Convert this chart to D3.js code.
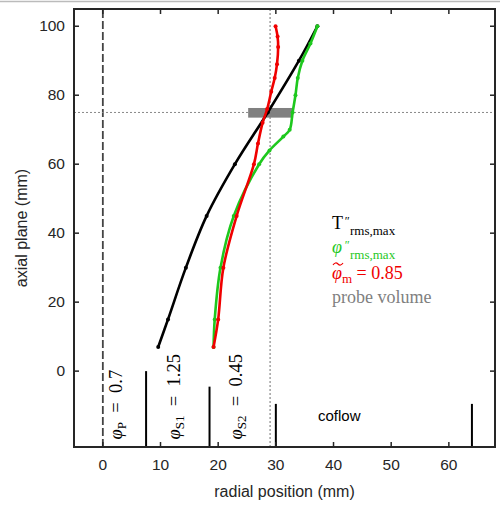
<!DOCTYPE html>
<html>
<head>
<meta charset="utf-8">
<script src="https://cdn.jsdelivr.net/npm/d3@7"></script>
<style>
  body { margin: 0; background: #fff; }
  svg { display: block; }
</style>
</head>
<body>
<svg id="chart" width="500" height="507"></svg>
<script>
// profiles (radial position vs axial plane, mm)
const blackY = [7, 15, 30, 45, 60, 75, 90, 100];
const blackX = [9.6, 11.3, 14.4, 18.0, 22.9, 28.6, 34.0, 37.2];

const greenY = [7, 15, 30, 45, 60, 64, 68, 70, 75, 80, 85, 90, 95, 100];
const greenX = [19.2, 19.4, 20.4, 22.7, 27.1, 28.9, 31.3, 32.4, 32.9, 33.4, 33.8, 34.6, 36.0, 37.2];

const redY = [7, 15, 30, 45, 60, 66, 72, 76, 81, 85, 89, 94, 97, 100];
const redX = [19.2, 20.0, 20.9, 23.2, 26.2, 26.9, 27.7, 28.5, 29.2, 29.8, 30.2, 30.4, 30.3, 29.95];

// burner walls: x position and top of the wall line
const wallX = [7.5, 18.5, 30, 64];
const wallTop = [0, -4.5, -9.5, -9.5];

const xTicks = [0, 10, 20, 30, 40, 50, 60];
const yTicks = [0, 20, 40, 60, 80, 100];

const probeX = [25.2, 33.0];
const probeY = [73.5, 76.3];
const probeZ = 75;     // horizontal dotted line
const probeR = 29;     // vertical dotted line

const svg = d3.select("#chart");
const margin = {top: 9, right: 5, bottom: 60, left: 74};
const W = 500, H = 507;

const x = d3.scaleLinear().domain([-5, 68]).range([margin.left, W - margin.right]);
const y = d3.scaleLinear().domain([-22, 105]).range([H - margin.bottom, margin.top]);

const sans = "'Liberation Sans', Arial, sans-serif";
const serif = "'Liberation Serif', 'Times New Roman', serif";

// faint frame line at top of image
svg.append("line").attr("x1", 0).attr("x2", W).attr("y1", 1.5).attr("y2", 1.5)
  .attr("stroke", "#bbb").attr("stroke-width", 1.5);

// reference lines
svg.append("line")
  .attr("x1", x(0)).attr("x2", x(0)).attr("y1", y(-22)).attr("y2", y(105))
  .attr("stroke", "#444").attr("stroke-width", 1.8).attr("stroke-dasharray", "8,3");
svg.append("line")
  .attr("x1", x(-5)).attr("x2", x(68)).attr("y1", y(probeZ)).attr("y2", y(probeZ))
  .attr("stroke", "#888").attr("stroke-width", 1).attr("stroke-dasharray", "2,2");
svg.append("line")
  .attr("x1", x(probeR)).attr("x2", x(probeR)).attr("y1", y(-22)).attr("y2", y(105))
  .attr("stroke", "#888").attr("stroke-width", 1.2).attr("stroke-dasharray", "2,2");

// burner wall stubs
svg.selectAll(".wall").data(wallX).enter().append("line")
  .attr("class", "wall")
  .attr("x1", d => x(d)).attr("x2", d => x(d))
  .attr("y1", y(-22)).attr("y2", (d, i) => y(wallTop[i]))
  .attr("stroke", "#000").attr("stroke-width", 2);

// probe volume
svg.append("rect")
  .attr("x", x(probeX[0])).attr("width", x(probeX[1]) - x(probeX[0]))
  .attr("y", y(probeY[1])).attr("height", y(probeY[0]) - y(probeY[1]))
  .attr("fill", "#808080");

const line = d3.line().x(d => x(d[0])).y(d => y(d[1])).curve(d3.curveCatmullRom);

function profile(xs, ys, color) {
  const pts = xs.map((v, i) => [v, ys[i]]);
  svg.append("path").datum(pts).attr("d", line)
    .attr("fill", "none").attr("stroke", color).attr("stroke-width", 2.6);
  svg.selectAll(null).data(pts).enter().append("circle")
    .attr("cx", d => x(d[0])).attr("cy", d => y(d[1])).attr("r", 2)
    .attr("fill", color);
}
profile(blackX, blackY, "#000");
profile(greenX, greenY, "#1ec81e");
profile(redX, redY, "#f00000");

// axes box with inward ticks
const axes = svg.append("g").attr("font-family", sans).attr("font-size", 15.5).attr("fill", "#262626");
axes.append("rect")
  .attr("x", x(-5)).attr("y", y(105)).attr("width", x(68) - x(-5)).attr("height", y(-22) - y(105))
  .attr("fill", "none").attr("stroke", "#262626").attr("stroke-width", 2);

const tl = 5;
xTicks.forEach(t => {
  axes.append("line").attr("x1", x(t)).attr("x2", x(t)).attr("y1", y(-22)).attr("y2", y(-22) - tl)
    .attr("stroke", "#262626").attr("stroke-width", 1.5);
  axes.append("line").attr("x1", x(t)).attr("x2", x(t)).attr("y1", y(105)).attr("y2", y(105) + tl)
    .attr("stroke", "#262626").attr("stroke-width", 1.5);
  axes.append("text").attr("x", x(t)).attr("y", y(-22) + 23).attr("text-anchor", "middle").text(t);
});
yTicks.forEach(t => {
  axes.append("line").attr("x1", x(-5)).attr("x2", x(-5) + tl).attr("y1", y(t)).attr("y2", y(t))
    .attr("stroke", "#262626").attr("stroke-width", 1.5);
  axes.append("line").attr("x1", x(68)).attr("x2", x(68) - tl).attr("y1", y(t)).attr("y2", y(t))
    .attr("stroke", "#262626").attr("stroke-width", 1.5);
  axes.append("text").attr("x", x(-5) - 9).attr("y", y(t) + 5).attr("text-anchor", "end").text(t);
});

axes.append("text").attr("x", (x(-5) + x(68)) / 2).attr("y", 497)
  .attr("text-anchor", "middle").attr("font-size", 16).text("radial position (mm)");
axes.append("text")
  .attr("transform", `translate(27,${(y(-22) + y(105)) / 2}) rotate(-90)`)
  .attr("text-anchor", "middle").attr("font-size", 16).text("axial plane (mm)");

svg.append("text").attr("x", 318).attr("y", 421).attr("font-family", sans).attr("font-size", 15)
  .attr("fill", "#000").text("coflow");

// rotated equivalence ratio labels
const eqLabels = [
  {sub: "P", val: "0.7", bx: 3.3},
  {sub: "S1", val: "1.25", bx: 13.4},
  {sub: "S2", val: "0.45", bx: 24.1}
];
eqLabels.forEach(d => {
  const t = svg.append("text")
    .attr("transform", `translate(${x(d.bx)},${y(-19.8)}) rotate(-90)`)
    .attr("font-family", serif).attr("font-size", 18.5).attr("fill", "#000");
  t.append("tspan").attr("font-style", "italic").text("φ");
  t.append("tspan").attr("font-size", 13).attr("dy", 4).text(d.sub);
  t.append("tspan").attr("dy", -4).text("\u2002=\u2002" + d.val);
});

// legend
const lx = 332;
const leg = svg.append("g").attr("font-family", serif).attr("font-size", 18);

function primed(base, italic, by, color) {
  leg.append("text").attr("x", lx).attr("y", by).attr("font-style", italic ? "italic" : null)
    .attr("fill", color).text(base);
  leg.append("text").attr("x", lx + 12).attr("y", by - 4).attr("font-size", 12).attr("font-style", "italic")
    .attr("fill", color).text("″");
  leg.append("text").attr("x", lx + 18).attr("y", by + 6).attr("font-size", 13)
    .attr("fill", color).text("rms,max");
}
primed("T", false, 229, "#000");
primed("φ", true, 253, "#1ec81e");

const l3 = leg.append("text").attr("x", lx).attr("y", 279).attr("fill", "#f00000");
l3.append("tspan").attr("font-style", "italic").text("φ");
l3.append("tspan").attr("font-size", 13).attr("dy", 4).text("m");
l3.append("tspan").attr("dy", -4).text(" = 0.85");
// tilde above phi
svg.append("path")
  .attr("d", `M${lx + 1},${265} q2.5,-3.5 5,-1 t5,-1`)
  .attr("fill", "none").attr("stroke", "#f00000").attr("stroke-width", 1.2);

leg.append("text").attr("x", lx).attr("y", 303).attr("fill", "#808080").text("probe volume");
</script>
</body>
</html>
